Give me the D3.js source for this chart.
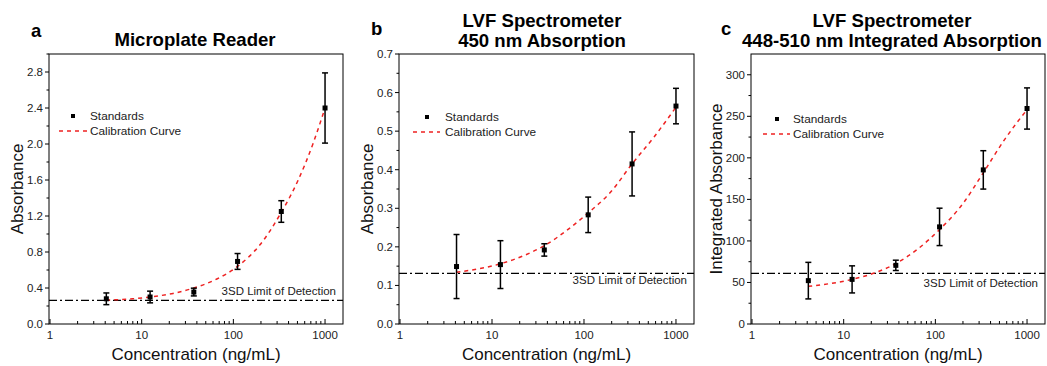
<!DOCTYPE html>
<html>
<head>
<meta charset="utf-8">
<script src="https://cdn.jsdelivr.net/npm/d3@7"></script>
<style>
  html, body { margin: 0; padding: 0; background: #fff; }
  svg { display: block; font-family: "Liberation Sans", Arial, sans-serif; }
</style>
</head>
<body>
<svg id="chart" width="1047" height="366"></svg>
<script>
// ---------------- DATA ----------------
const concentrations = [4.115, 12.35, 37.04, 111.1, 333.3, 1000];
const xTickLabels = ["1", "10", "100", "1000"];

// Panel a: Microplate Reader
const aMeans = [0.28, 0.30, 0.355, 0.695, 1.25, 2.40];
const aSD    = [0.065, 0.065, 0.043, 0.088, 0.12, 0.39];
const aLOD   = 0.262;
const aCurveX = [4.1, 6, 8, 12.3, 22, 37, 66, 111, 195, 333, 510, 743, 1000];
const aCurveY = [0.265, 0.272, 0.28, 0.30, 0.34, 0.40, 0.50, 0.64, 0.88, 1.24, 1.60, 2.01, 2.40];
const aYTicks = ["0.0", "0.4", "0.8", "1.2", "1.6", "2.0", "2.4", "2.8"];

// Panel b: LVF 450 nm
const bMeans = [0.149, 0.154, 0.192, 0.283, 0.415, 0.565];
const bSD    = [0.083, 0.062, 0.016, 0.046, 0.083, 0.046];
const bLOD   = 0.131;
const bCurveX = [4.1, 12.3, 22, 37, 66, 111, 195, 333, 578, 1000];
const bCurveY = [0.134, 0.156, 0.177, 0.203, 0.244, 0.288, 0.342, 0.415, 0.485, 0.562];
const bYTicks = ["0.0", "0.1", "0.2", "0.3", "0.4", "0.5", "0.6", "0.7"];

// Panel c: LVF 448-510 nm integrated
const cMeans = [52.2, 53.7, 70.6, 116.9, 185.5, 259.4];
const cSD    = [22, 16.3, 6.2, 22.5, 23.1, 24.8];
const cLOD   = 61;
const cCurveX = [4.1, 12, 21.6, 37, 64.5, 111, 200, 333, 569, 1000];
const cCurveY = [45.3, 53.4, 61.4, 72.7, 90.4, 113.6, 145, 182, 222, 258];
const cYTicks = ["0", "50", "100", "150", "200", "250", "300"];

// ---------------- DRAW ----------------
const svg = d3.select("#chart");

function drawPanel(cfg) {
  const g = svg.append("g");
  const x = d3.scaleLog().domain([0.975, 1570]).range([cfg.left, cfg.right]);
  const y = d3.scaleLinear().domain([0, cfg.yMax]).range([cfg.bottom, cfg.top]);

  // frame
  g.append("rect")
    .attr("x", cfg.left).attr("y", cfg.top)
    .attr("width", cfg.right - cfg.left).attr("height", cfg.bottom - cfg.top)
    .attr("fill", "none").attr("stroke", "#000").attr("stroke-width", 1);

  // x ticks (inward)
  const xt = x.ticks().filter(v => v >= 1 && v <= 1570);
  xt.forEach(v => {
    const major = Math.abs(Math.log10(v) - Math.round(Math.log10(v))) < 1e-9;
    g.append("line")
      .attr("x1", x(v)).attr("x2", x(v))
      .attr("y1", cfg.bottom).attr("y2", cfg.bottom - (major ? 5 : 3))
      .attr("stroke", "#000").attr("stroke-width", 1);
  });
  xTickLabels.forEach(t => {
    g.append("text").attr("x", x(+t)).attr("y", cfg.bottom + 14.5)
      .attr("text-anchor", "middle").attr("font-size", 11.5).attr("fill", "#222")
      .text(t);
  });

  // y ticks (outward)
  cfg.yTicks.forEach(t => {
    const v = +t;
    g.append("line")
      .attr("x1", cfg.left).attr("x2", cfg.left - 4)
      .attr("y1", y(v)).attr("y2", y(v))
      .attr("stroke", "#000").attr("stroke-width", 1);
    g.append("text").attr("x", cfg.left - 6).attr("y", y(v) + 4)
      .attr("text-anchor", "end").attr("font-size", 11.5).attr("fill", "#222")
      .text(t);
  });
  const step = (+cfg.yTicks[1]) - (+cfg.yTicks[0]);
  for (let v = step / 2; v < cfg.yMax; v += step) {
    if (Math.abs(v / step - Math.round(v / step)) < 1e-6) continue;
    g.append("line")
      .attr("x1", cfg.left).attr("x2", cfg.left - 2.5)
      .attr("y1", y(v)).attr("y2", y(v))
      .attr("stroke", "#000").attr("stroke-width", 1);
  }

  // LOD line
  g.append("line")
    .attr("x1", cfg.left).attr("x2", cfg.right)
    .attr("y1", y(cfg.lod)).attr("y2", y(cfg.lod))
    .attr("stroke", "#000").attr("stroke-width", 1.3)
    .attr("stroke-dasharray", "8,3,2,3");
  g.append("text")
    .attr("x", cfg.right - 7).attr("y", y(cfg.lod) + cfg.lodDy)
    .attr("text-anchor", "end").attr("font-size", 11.5).attr("fill", "#222")
    .text("3SD Limit of Detection");

  // calibration curve
  const pts = cfg.curveX.map((cx, i) => [cx, cfg.curveY[i]]);
  const line = d3.line().x(d => x(d[0])).y(d => y(d[1])).curve(d3.curveMonotoneX);
  g.append("path").attr("d", line(pts))
    .attr("fill", "none").attr("stroke", "#ee2222").attr("stroke-width", 1.5)
    .attr("stroke-dasharray", "4,4");

  // error bars + markers
  concentrations.forEach((c, i) => {
    const m = cfg.means[i], s = cfg.sd[i];
    const px = x(c);
    g.append("line").attr("x1", px).attr("x2", px)
      .attr("y1", y(m - s)).attr("y2", y(m + s))
      .attr("stroke", "#000").attr("stroke-width", 1.5);
    [m - s, m + s].forEach(v => {
      g.append("line").attr("x1", px - 3).attr("x2", px + 3)
        .attr("y1", y(v)).attr("y2", y(v))
        .attr("stroke", "#000").attr("stroke-width", 1.5);
    });
    g.append("rect").attr("x", px - 2.5).attr("y", y(m) - 2.5)
      .attr("width", 5).attr("height", 5).attr("fill", "#000");
  });

  // legend
  const L = cfg.legend;
  g.append("rect").attr("x", L.mx - 2).attr("y", L.my - 2).attr("width", 4).attr("height", 4).attr("fill", "#000");
  g.append("text").attr("x", L.tx).attr("y", L.my + 4).attr("font-size", 11.8).attr("fill", "#222").text("Standards");
  g.append("line").attr("x1", L.lx1).attr("x2", L.lx2).attr("y1", L.my + 15).attr("y2", L.my + 15)
    .attr("stroke", "#ee2222").attr("stroke-width", 1.5).attr("stroke-dasharray", "4,4");
  g.append("text").attr("x", L.tx).attr("y", L.my + 19).attr("font-size", 11.8).attr("fill", "#222").text("Calibration Curve");

  // axis titles
  g.append("text").attr("x", (cfg.left + cfg.right) / 2).attr("y", 360)
    .attr("text-anchor", "middle").attr("font-size", 17).attr("fill", "#111")
    .text("Concentration (ng/mL)");
  g.append("text")
    .attr("transform", `translate(${cfg.yTitleX},${(cfg.top + cfg.bottom) / 2}) rotate(-90)`)
    .attr("text-anchor", "middle").attr("font-size", 17).attr("fill", "#111")
    .text(cfg.yTitle);

  // titles
  cfg.title.forEach((t, i) => {
    g.append("text").attr("x", cfg.titleX).attr("y", cfg.titleY[i])
      .attr("text-anchor", "middle").attr("font-size", 18.6).attr("font-weight", "bold").attr("fill", "#000")
      .text(t);
  });
  g.append("text").attr("x", cfg.letterX).attr("y", cfg.letterY)
    .attr("font-size", 18.5).attr("font-weight", "bold").attr("fill", "#000")
    .text(cfg.letter);
}

drawPanel({
  left: 49, right: 343, top: 54, bottom: 324, yMax: 3.0,
  yTicks: aYTicks, means: aMeans, sd: aSD, lod: aLOD, lodDy: -5,
  curveX: aCurveX, curveY: aCurveY,
  legend: { mx: 73, my: 116, tx: 90, lx1: 59, lx2: 88 },
  yTitle: "Absorbance", yTitleX: 23,
  title: ["Microplate Reader"], titleX: 195, titleY: [45.5],
  letter: "a", letterX: 31, letterY: 37
});
drawPanel({
  left: 399, right: 694, top: 54, bottom: 324, yMax: 0.7,
  yTicks: bYTicks, means: bMeans, sd: bSD, lod: bLOD, lodDy: 11,
  curveX: bCurveX, curveY: bCurveY,
  legend: { mx: 427, my: 117, tx: 445, lx1: 413, lx2: 440 },
  yTitle: "Absorbance", yTitleX: 373,
  title: ["LVF Spectrometer", "450 nm Absorption"], titleX: 542, titleY: [26.5, 46.5],
  letter: "b", letterX: 371, letterY: 35
});
drawPanel({
  left: 751, right: 1045, top: 54, bottom: 324, yMax: 325,
  yTicks: cYTicks, means: cMeans, sd: cSD, lod: cLOD, lodDy: 14,
  curveX: cCurveX, curveY: cCurveY,
  legend: { mx: 777, my: 119, tx: 793, lx1: 763, lx2: 790 },
  yTitle: "Integrated Absorbance", yTitleX: 722,
  title: ["LVF Spectrometer", "448-510 nm Integrated Absorption"], titleX: 892, titleY: [26.5, 46.5],
  letter: "c", letterX: 721, letterY: 35
});
</script>
</body>
</html>
